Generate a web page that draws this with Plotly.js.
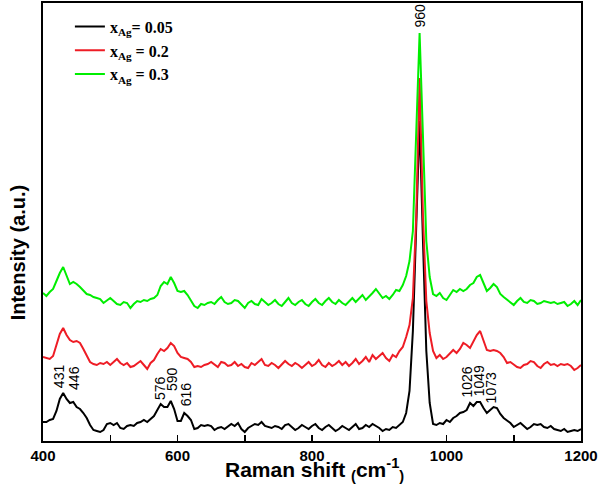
<!DOCTYPE html>
<html>
<head>
<meta charset="utf-8">
<script src="https://cdn.plot.ly/plotly-3.0.1.min.js"></script>
<style>html,body{margin:0;padding:0;background:#fff;}#chart{width:600px;height:484px;}</style>
</head>
<body>
<div id="chart"></div>
<script>
const ramanShift = [400,405,410,415,420,425,430,435,440,445,450,455,460,465,470,475,480,485,490,495,500,505,510,515,520,525,530,535,540,545,550,555,560,565,570,575,580,585,590,595,600,605,610,615,620,625,630,635,640,645,650,655,660,665,670,675,680,685,690,695,700,705,710,715,720,725,730,735,740,745,750,755,760,765,770,775,780,785,790,795,800,805,810,815,820,825,830,835,840,845,850,855,860,865,870,875,880,885,890,895,900,905,910,915,920,925,930,935,940,945,950,955,960,965,970,975,980,985,990,995,1000,1005,1010,1015,1020,1025,1030,1035,1040,1045,1050,1055,1060,1065,1070,1075,1080,1085,1090,1095,1100,1105,1110,1115,1120,1125,1130,1135,1140,1145,1150,1155,1160,1165,1170,1175,1180,1185,1190,1195,1200];

const intensity005 = [19,19,21,22,30,42,48,42,38,39,34,32,28,23,16,11,10,9,11,17,18,16,18,13,12,15,16,15,18,19,21,19,22,25,31,37,34,34,40,32,20,20,28,25,21,12,13,16,15,16,15,11,13,14,12,15,17,15,18,12,9,13,15,17,16,19,15,14,13,15,14,12,16,17,14,11,13,16,14,12,15,17,13,11,14,16,13,10,12,15,13,11,14,17,12,13,16,14,17,15,13,10,12,11,14,13,16,19,28,50,110,210,320,200,90,38,17,16,18,17,21,19,23,25,28,29,31,38,35,39,39,33,28,31,34,33,27,23,20,18,14,16,18,15,12,14,17,16,17,14,13,15,12,11,10,12,9,10,11,10,12];

const intensity02 = [84,83,82,85,96,107,113,106,101,99,100,98,92,85,79,77,76,78,77,79,76,79,82,78,76,78,74,75,78,80,76,72,78,81,87,92,90,93,98,95,88,84,83,82,79,74,75,74,76,77,79,76,74,79,78,75,76,79,75,77,74,73,78,76,79,82,76,75,78,76,73,76,80,77,75,78,76,73,76,79,75,77,81,76,74,78,75,77,80,76,79,75,78,82,77,80,84,79,86,82,85,88,83,80,86,84,90,94,104,116,143,225,363,225,140,108,90,83,86,82,84,88,91,88,92,98,96,93,100,106,110,100,91,90,91,90,88,84,78,79,76,74,73,76,77,80,79,75,73,77,79,76,77,75,77,76,77,75,71,73,76];

const intensity03 = [148,145,149,152,160,168,174,166,157,159,157,154,150,147,146,144,143,142,138,141,143,140,137,136,139,138,133,137,140,139,141,140,142,143,146,155,159,157,164,158,150,149,150,146,140,135,133,137,136,138,139,137,141,144,139,137,138,141,140,136,133,138,140,137,136,142,139,136,138,141,137,135,139,143,138,136,139,141,137,135,139,142,138,136,140,143,139,137,141,138,136,140,143,139,142,146,141,144,148,152,147,143,145,142,146,151,150,156,165,180,210,300,408,305,200,164,147,145,148,143,141,146,151,149,152,150,152,156,158,164,166,158,150,153,157,154,147,144,141,138,136,140,143,139,138,141,140,137,138,140,139,138,139,137,138,139,135,137,140,136,141];

const seriesNames = ['x<sub>Ag</sub>= 0.05', 'x<sub>Ag</sub> = 0.2', 'x<sub>Ag</sub> = 0.3'];
const seriesColors = ['#000000', '#ee1c25', '#00ee00'];

const peakText = ['431','446','576','590','616','960','1026','1049','1073'];
const peakX = [424,446,574,592,613,960,1029,1048,1066];
const peakY = [51,49,39,48,33,411,41,43,36];

const xTickVals = [400,600,800,1000,1200];

const series = [intensity005, intensity02, intensity03];
const traces = series.map((ys, i) => ({
  x: ramanShift, y: ys, type: 'scatter', mode: 'lines',
  name: seriesNames[i],
  line: {color: seriesColors[i], width: 2}
}));

const annotations = peakText.map((t, i) => ({
  x: peakX[i], y: peakY[i], xref: 'x', yref: 'y',
  text: t, showarrow: false, textangle: -90,
  xanchor: 'center', yanchor: 'bottom',
  font: {family: 'Liberation Sans, Arial, sans-serif', size: 14, color: '#000'}
}));

annotations.push({
  xref: 'paper', yref: 'paper', x: -0.047, y: 0.43,
  text: 'Intensity (a.u.)', showarrow: false, textangle: -90,
  xanchor: 'center', yanchor: 'middle',
  font: {family: 'Liberation Sans, Arial, sans-serif', size: 20, color: '#000', weight: 'bold'}
});

annotations.push({
  xref: 'paper', yref: 'paper', x: 0.505, y: -0.066,
  text: 'Raman shift <sub>(</sub>cm<sup>-1</sup><sub>)</sub>', showarrow: false,
  xanchor: 'center', yanchor: 'middle',
  font: {family: 'Liberation Sans, Arial, sans-serif', size: 21, color: '#000', weight: 'bold'}
});

const layout = {
  width: 600, height: 484,
  margin: {l: 43, r: 19, t: 3, b: 43},
  paper_bgcolor: '#fff', plot_bgcolor: '#fff',
  showlegend: true,
  legend: {
    x: 0.05, y: 0.985, xanchor: 'left', yanchor: 'top',
    bgcolor: 'rgba(0,0,0,0)', borderwidth: 0,
    font: {family: 'Liberation Serif, Times New Roman, serif', size: 16, color: '#000', weight: 'bold'},
    tracegroupgap: 0
  },
  xaxis: {
    range: [400, 1200],
    tickvals: xTickVals,
    ticks: 'inside', ticklen: 6, tickwidth: 1.5, tickcolor: '#000',
    minor: {dtick: 100, tick0: 400, ticks: 'inside', ticklen: 6, tickwidth: 1.5, tickcolor: '#000'},
    showline: true, mirror: true, linewidth: 2, linecolor: '#000',
    showgrid: false, zeroline: false,
    tickfont: {family: 'Liberation Sans, Arial, sans-serif', size: 15, color: '#000', weight: 'bold'}
  },
  yaxis: {
    range: [0, 438],
    showticklabels: false, ticks: '',
    showline: true, mirror: true, linewidth: 2, linecolor: '#000',
    showgrid: false, zeroline: false
  },
  annotations: annotations
};

Plotly.newPlot('chart', traces, layout, {displayModeBar: false, staticPlot: true});
</script>
</body>
</html>
